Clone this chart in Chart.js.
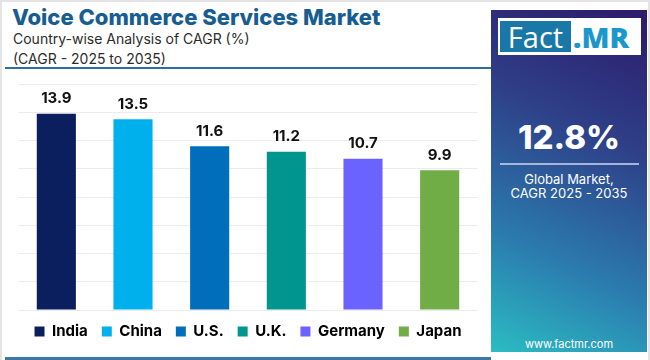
<!DOCTYPE html>
<html>
<head>
<meta charset="utf-8">
<script src="https://cdn.jsdelivr.net/npm/chart.js@4"></script>
<style>
  html, body { margin: 0; padding: 0; }
  body { width: 650px; height: 360px; position: relative; overflow: hidden; background: #fff; font-family: Inter, "Open Sans", sans-serif; }
  .frame { position: absolute; left: 0; top: 0; width: 646px; height: 358px; border: 2px solid #e4e4e4; border-bottom: none; }
  .title { position: absolute; left: 12px; top: 4px; font-size: 22px; font-weight: 800; color: #175d91; }
  .sub { position: absolute; left: 13px; font-size: 14px; color: #2b2b2b; }
  .rule { position: absolute; left: 5px; top: 67px; width: 486px; height: 2px; background: #2e6d9d; }
  .bottom-rule { position: absolute; left: 5px; top: 357px; width: 486px; height: 3px; background: #3b78a8; }
  .panel { position: absolute; left: 491px; top: 10px; width: 156px; height: 342px;
           background: linear-gradient(205deg, #2d1a6b 0%, #2e3f88 35%, #2b7aae 70%, #2bbcc3 100%); color: #fff; text-align: center; }
  .logo { position: absolute; left: 7px; top: 8px; width: 143px; height: 37px; background: #fff; }
  .logo .fact { position: absolute; left: 2px; top: 3px; width: 71px; height: 31px; background: #1a78a8; color: #fff; font-size: 29px; line-height: 31px; font-family: "Open Sans", sans-serif; }
  .logo .mr { position: absolute; left: 75px; top: 3px; height: 31px; color: #1c97cc; font-size: 29px; font-weight: 800; line-height: 31px; font-family: "Open Sans", sans-serif; }
  .big { position: absolute; left: 0; width: 156px; top: 107px; font-size: 33px; font-weight: 800; }
  .pline { position: absolute; left: 9px; top: 153px; width: 139px; height: 2px; background: rgba(220,225,245,0.7); }
  .ptxt { position: absolute; left: 0; width: 156px; top: 162px; font-size: 13px; line-height: 14px; }
  .url { position: absolute; left: 0; width: 156px; top: 327px; font-size: 11px; }
  #wrap { position: absolute; left: 0; top: 70px; width: 490px; height: 279px; }
</style>
</head>
<body>
<div class="frame"></div>
<div class="title">Voice Commerce Services Market</div>
<div class="sub" style="top:30px">Country-wise Analysis of CAGR (%)</div>
<div class="sub" style="top:50px">(CAGR - 2025 to 2035)</div>
<div class="rule"></div>
<div id="wrap"><canvas id="myBarChart"></canvas></div>
<div class="bottom-rule"></div>
<div class="panel">
  <div class="logo"><div class="fact">Fact</div><div class="mr">.MR</div></div>
  <div class="big">12.8%</div>
  <div class="pline"></div>
  <div class="ptxt">Global Market,<br>CAGR 2025 - 2035</div>
  <div class="url">www.factmr.com</div>
</div>
<script>
const countries = ['India', 'China', 'U.S.', 'U.K.', 'Germany', 'Japan'];
const cagr = [13.9, 13.5, 11.6, 11.2, 10.7, 9.9];
const barColors = ['#0b1f5e', '#00b0ec', '#006eba', '#00968f', '#6b63ff', '#70ad47'];

// value labels above each bar
const barLabels = {
    id: 'barLabels',
    afterDatasetsDraw(chart) {
        const ctx = chart.ctx;
        const meta = chart.getDatasetMeta(0);
        ctx.save();
        ctx.font = 'bold 15px Inter, sans-serif';
        ctx.fillStyle = '#111';
        ctx.textAlign = 'center';
        ctx.textBaseline = 'middle';
        meta.data.forEach((bar, i) => {
            ctx.fillText(cagr[i].toFixed(1), bar.x, bar.y - 15);
        });
        ctx.restore();
    }
};

const ctxBar = document.getElementById('myBarChart').getContext('2d');

const myBarChart = new Chart(ctxBar, {
    type: 'bar',
    data: {
        labels: countries,
        datasets: [{
            label: 'CAGR (%)',
            data: cagr,
            backgroundColor: barColors,
            barPercentage: 0.51,
            categoryPercentage: 1
        }]
    },
    options: {
        responsive: true,
        maintainAspectRatio: false,
        animation: false,
        layout: { padding: { left: 18, right: 12, top: 14, bottom: 0 } },
        scales: {
            x: { display: false },
            y: {
                min: 0,
                max: 16,
                ticks: { display: false, stepSize: 2 },
                border: { display: false },
                grid: { color: '#ececec', drawTicks: false }
            }
        },
        plugins: {
            tooltip: { enabled: false },
            legend: {
                position: 'bottom',
                labels: {
                    boxWidth: 10,
                    boxHeight: 10,
                    padding: 14,
                    color: '#111',
                    font: { family: 'Inter, sans-serif', size: 15, weight: 'bold' },
                    generateLabels: (chart) => countries.map((c, i) => ({
                        text: c,
                        fillStyle: barColors[i],
                        strokeStyle: barColors[i],
                        lineWidth: 0,
                        index: i
                    }))
                }
            }
        }
    },
    plugins: [barLabels]
});
</script>
</body>
</html>
